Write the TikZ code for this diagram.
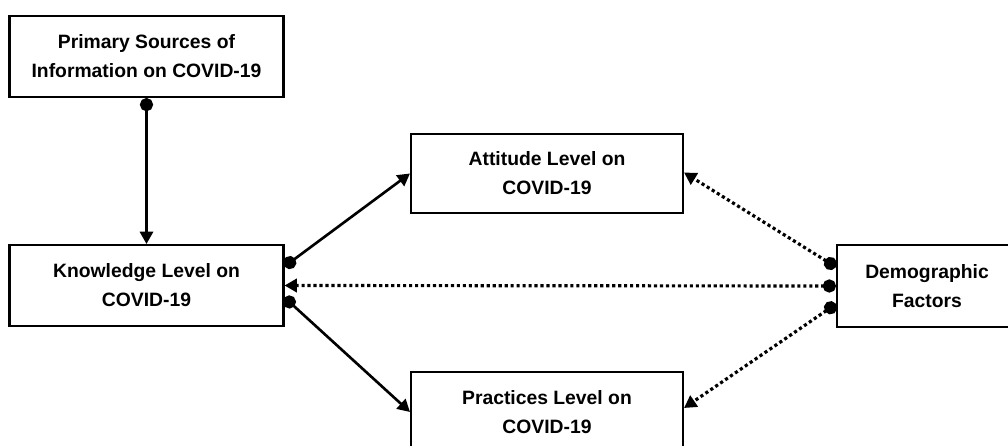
\documentclass[tikz,border=0pt]{standalone}
\usepackage{fontspec}
\setmainfont{Liberation Sans}
\usetikzlibrary{arrows.meta, calc}

\begin{document}
\begin{tikzpicture}[
  x=0.02cm, y=-0.02cm,
  box/.style={draw, line width=1.2pt, align=center, inner sep=0pt,
    font=\fontsize{11}{16.5}\selectfont\bfseries},
  link/.style={line width=1.5pt,
    {Circle[length=7.5pt]}-{Triangle[length=7pt, width=7.5pt]}},
  dots/.style={link, line width=1.8pt, dash pattern=on 1.8pt off 1.6pt},
]
  \clip (0,0) rectangle (1008,446);

  \node[box, minimum width=5.48cm, minimum height=1.62cm] (src) at (146.5,56.5)
    {Primary Sources of\\Information on COVID-19};
  \node[box, minimum width=5.48cm, minimum height=1.62cm] (know) at (146.5,285.5)
    {Knowledge Level on\\COVID-19};
  \node[box, minimum width=5.44cm, minimum height=1.58cm] (att) at (547,173.5)
    {Attitude Level on\\COVID-19};
  \node[box, minimum width=5.44cm, minimum height=1.6cm] (prac) at (547,412)
    {Practices Level on\\COVID-19};
  \node[box, minimum width=3.6cm, minimum height=1.64cm] (demo) at (927,286)
    {Demographic\\Factors};

  % solid links
  \draw[link] (src.south) -- (know.north);
  \draw[link] ($(know.east)+(0,-19)$) -- (att.west);
  \draw[link] ($(know.east)+(0,12)$) -- (prac.west);

  % dotted links from the demographic factors
  \draw[dots] ($(demo.west)+(0,-19)$) -- ($(att.east)+(0,-1)$);
  \draw[dots] (demo.west) -- (know.east);
  \draw[dots] ($(demo.west)+(0,18)$) -- ($(prac.east)+(0,-4)$);
\end{tikzpicture}
\end{document}
